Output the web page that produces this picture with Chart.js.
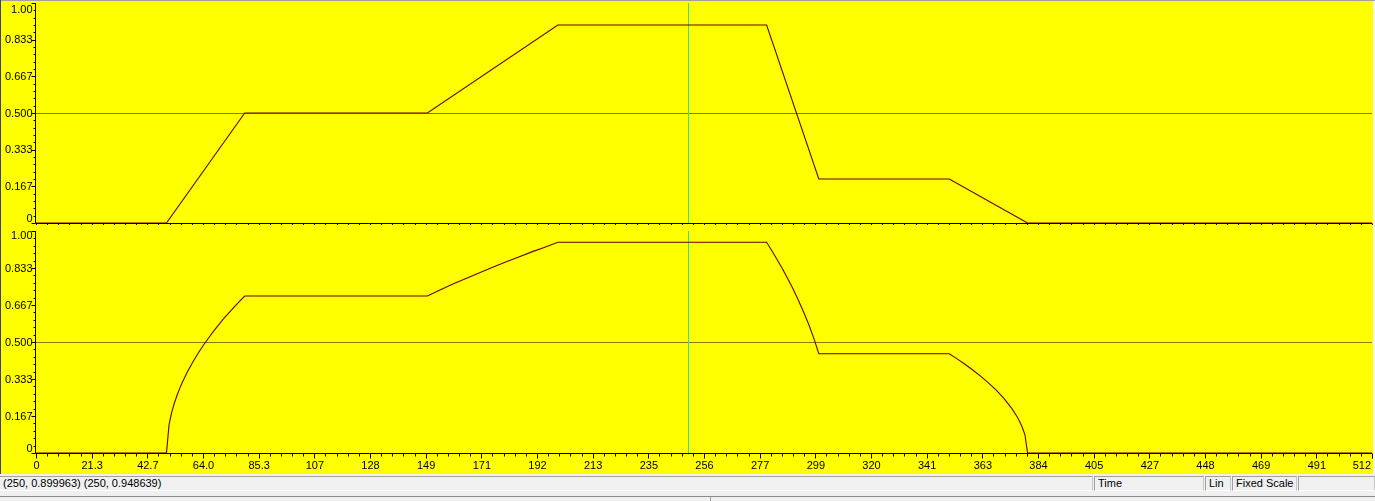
<!DOCTYPE html>
<html>
<head>
<meta charset="utf-8">
<script src="https://cdn.jsdelivr.net/npm/chart.js@4.4.1/dist/chart.umd.min.js"></script>
<style>
  html, body { margin:0; padding:0; background:#f0f0f0; width:1375px; height:501px; overflow:hidden; }
  canvas { position:absolute; left:0; display:block; }
  #c1 { top:0; }
  #c2 { top:225px; }
  .line { position:absolute; }
  .panel { position:absolute; top:476px; height:15px; box-sizing:border-box;
           border-top:1px solid #a0a0a0; border-left:1px solid #a0a0a0; border-right:1px solid #c8c8c8; border-bottom:1px solid #ffffff;
           font:11px "Liberation Sans", Arial, sans-serif; color:#000; line-height:13px; padding-left:3px; white-space:nowrap; }
</style>
</head>
<body>
<canvas id="c1" width="1375" height="225"></canvas>
<canvas id="c2" width="1375" height="249"></canvas>
<div class="line" style="left:0;top:0;width:1375px;height:1px;background:#a0a0a0"></div>
<div class="line" style="left:0;top:0;width:1px;height:474px;background:#404040"></div>
<div class="line" style="left:1373px;top:1px;width:2px;height:473px;background:#fbfbd8"></div>
<div class="panel" style="left:0;width:1093px;border-left:none;padding-left:3px" id="readout"></div>
<div class="panel" style="left:1094px;width:110px" id="p2"></div>
<div class="panel" style="left:1205px;width:26px" id="p3"></div>
<div class="panel" style="left:1232px;width:65px" id="p4"></div>
<div class="panel" style="left:1298px;width:77px"></div>
<div class="line" style="left:0;top:496px;width:1375px;height:1px;background:#8c8c8c"></div>
<div class="line" style="left:710px;top:497px;width:1px;height:4px;background:#a0a0a0"></div>
<script>
// ---------- data ----------
const topX      = [0, 50, 80, 150, 200, 280, 300, 350, 380, 512];
const topValues = [0, 0, 0.5, 0.5, 0.9, 0.9, 0.2, 0.2, 0, 0];

const bottomX = [0, 50, 51, 52, 53, 54, 55, 56, 58, 60, 62, 64, 66, 68, 70, 72, 74, 76, 78, 80,
  150, 155, 160, 165, 170, 175, 180, 185, 190, 195, 200,
  280, 282, 284, 286, 288, 290, 292, 294, 296, 298, 300,
  350, 353, 356, 359, 362, 365, 368, 371, 374, 376, 377, 378, 379, 380, 512];
const bottomValues = [0, 0, 0.129, 0.183, 0.224, 0.258, 0.289, 0.316, 0.365, 0.408, 0.447, 0.483, 0.516, 0.548, 0.577, 0.606, 0.632, 0.658, 0.683, 0.707,
  0.707, 0.735, 0.762, 0.787, 0.812, 0.837, 0.860, 0.883, 0.906, 0.927, 0.949,
  0.949, 0.911, 0.872, 0.831, 0.787, 0.742, 0.693, 0.640, 0.583, 0.520, 0.447,
  0.447, 0.424, 0.400, 0.374, 0.346, 0.316, 0.283, 0.245, 0.200, 0.163, 0.141, 0.115, 0.082, 0, 0];

const xTickLabels = ["0","21.3","42.7","64.0","85.3","107","128","149","171","192","213","235","256",
  "277","299","320","341","363","384","405","427","448","469","491","512"];
const yTickLabels = ["0","0.167","0.333","0.500","0.667","0.833","1.00"];
const xMin = 0, xMax = 512;
const cursorX = 250;
const gridValue = 0.5;
const readoutText = "(250, 0.899963) (250, 0.948639)";
const statusLabels = ["Time", "Lin", "Fixed Scale"];

document.getElementById('readout').textContent = readoutText;
document.getElementById('p2').textContent = statusLabels[0];
document.getElementById('p3').textContent = statusLabels[1];
document.getElementById('p4').textContent = statusLabels[2];

// ---------- drawing plugin ----------
const FONT = '11px "Liberation Sans", Arial, sans-serif';
const scopePlugin = {
  id: 'scope',
  beforeDraw(chart) {
    const ctx = chart.ctx, a = chart.chartArea, ys = chart.scales.y, xs = chart.scales.x;
    ctx.save();
    ctx.fillStyle = '#ffff00';
    ctx.fillRect(0, 0, chart.width, chart.height);
    const gy = Math.round(ys.getPixelForValue(gridValue)) + 0.5;
    ctx.strokeStyle = '#808000';
    ctx.lineWidth = 1;
    ctx.beginPath(); ctx.moveTo(a.left, gy); ctx.lineTo(a.right, gy); ctx.stroke();
    const cx = Math.round(xs.getPixelForValue(cursorX)) + 0.5;
    ctx.strokeStyle = '#38d8c0';
    ctx.beginPath(); ctx.moveTo(cx, a.top); ctx.lineTo(cx, a.bottom); ctx.stroke();
    ctx.restore();
  },
  afterDatasetsDraw(chart, args, opts) {
    const ctx = chart.ctx, a = chart.chartArea, ys = chart.scales.y, xs = chart.scales.x;
    ctx.save();
    ctx.strokeStyle = '#000';
    ctx.lineWidth = 1;
    const axX = Math.round(a.left) - 0.5;
    const axY = Math.round(a.bottom) + 0.5;
    ctx.beginPath();
    ctx.moveTo(axX, a.top); ctx.lineTo(axX, axY);
    ctx.moveTo(axX, axY); ctx.lineTo(a.right, axY);
    ctx.stroke();
    const nY = yTickLabels.length - 1;
    ctx.beginPath();
    for (let i = 0; i <= nY; i++) {
      for (let k = 0; k < 5; k++) {
        if (i === nY && k > 0) break;
        const v = (i + k / 5) / nY;
        const py = Math.round(ys.getPixelForValue(v)) + 0.5;
        const len = k === 0 ? 4 : 2;
        ctx.moveTo(axX - len, py); ctx.lineTo(axX, py);
      }
    }
    const nX = xTickLabels.length - 1;
    for (let i = 0; i <= nX; i++) {
      for (let k = 0; k < 5; k++) {
        if (i === nX && k > 0) break;
        const v = xMin + (i + k / 5) * (xMax - xMin) / nX;
        const px = Math.round(xs.getPixelForValue(v)) + 0.5;
        const len = k === 0 ? 5 : 3;
        ctx.moveTo(px, axY); ctx.lineTo(px, axY + len);
      }
    }
    ctx.stroke();
    ctx.fillStyle = '#000';
    ctx.font = FONT;
    ctx.textAlign = 'right';
    ctx.textBaseline = 'middle';
    for (let i = 0; i <= nY; i++) {
      let py = ys.getPixelForValue(i / nY);
      py = Math.max(a.top + opts.topClamp, Math.min(a.bottom - 5, py));
      ctx.fillText(yTickLabels[i], axX - 3, py + 0.5);
    }
    if (opts.xLabels) {
      ctx.textAlign = 'center';
      for (let i = 0; i <= nX; i++) {
        const v = xMin + i * (xMax - xMin) / nX;
        let px = xs.getPixelForValue(v) + 0.5;
        const w = ctx.measureText(xTickLabels[i]).width;
        px = Math.min(px, chart.width - 4 - w / 2);
        ctx.fillText(xTickLabels[i], px, axY + 12);
      }
    }
    ctx.restore();
  }
};

function makeChart(id, xs, vals, padding, xLabels, topClamp) {
  return new Chart(document.getElementById(id), {
    type: 'line',
    data: {
      datasets: [{
        data: xs.map((x, i) => ({ x: x, y: vals[i] })),
        borderColor: '#6a0000',
        borderWidth: 1.1,
        pointRadius: 0,
        tension: 0,
        fill: false
      }]
    },
    options: {
      responsive: false,
      animation: false,
      devicePixelRatio: 1,
      layout: { padding: padding },
      scales: {
        x: { type: 'linear', min: xMin, max: xMax, display: false },
        y: { type: 'linear', min: 0, max: 1, display: false }
      },
      plugins: {
        legend: { display: false },
        tooltip: { enabled: false },
        scope: { xLabels: xLabels, topClamp: topClamp }
      }
    },
    plugins: [scopePlugin]
  });
}

makeChart('c1', topX, topValues, { left: 36, right: 3, top: 3, bottom: 2 }, false, 6);
makeChart('c2', bottomX, bottomValues, { left: 36, right: 3, top: 6, bottom: 21 }, true, 4);
</script>
</body>
</html>
